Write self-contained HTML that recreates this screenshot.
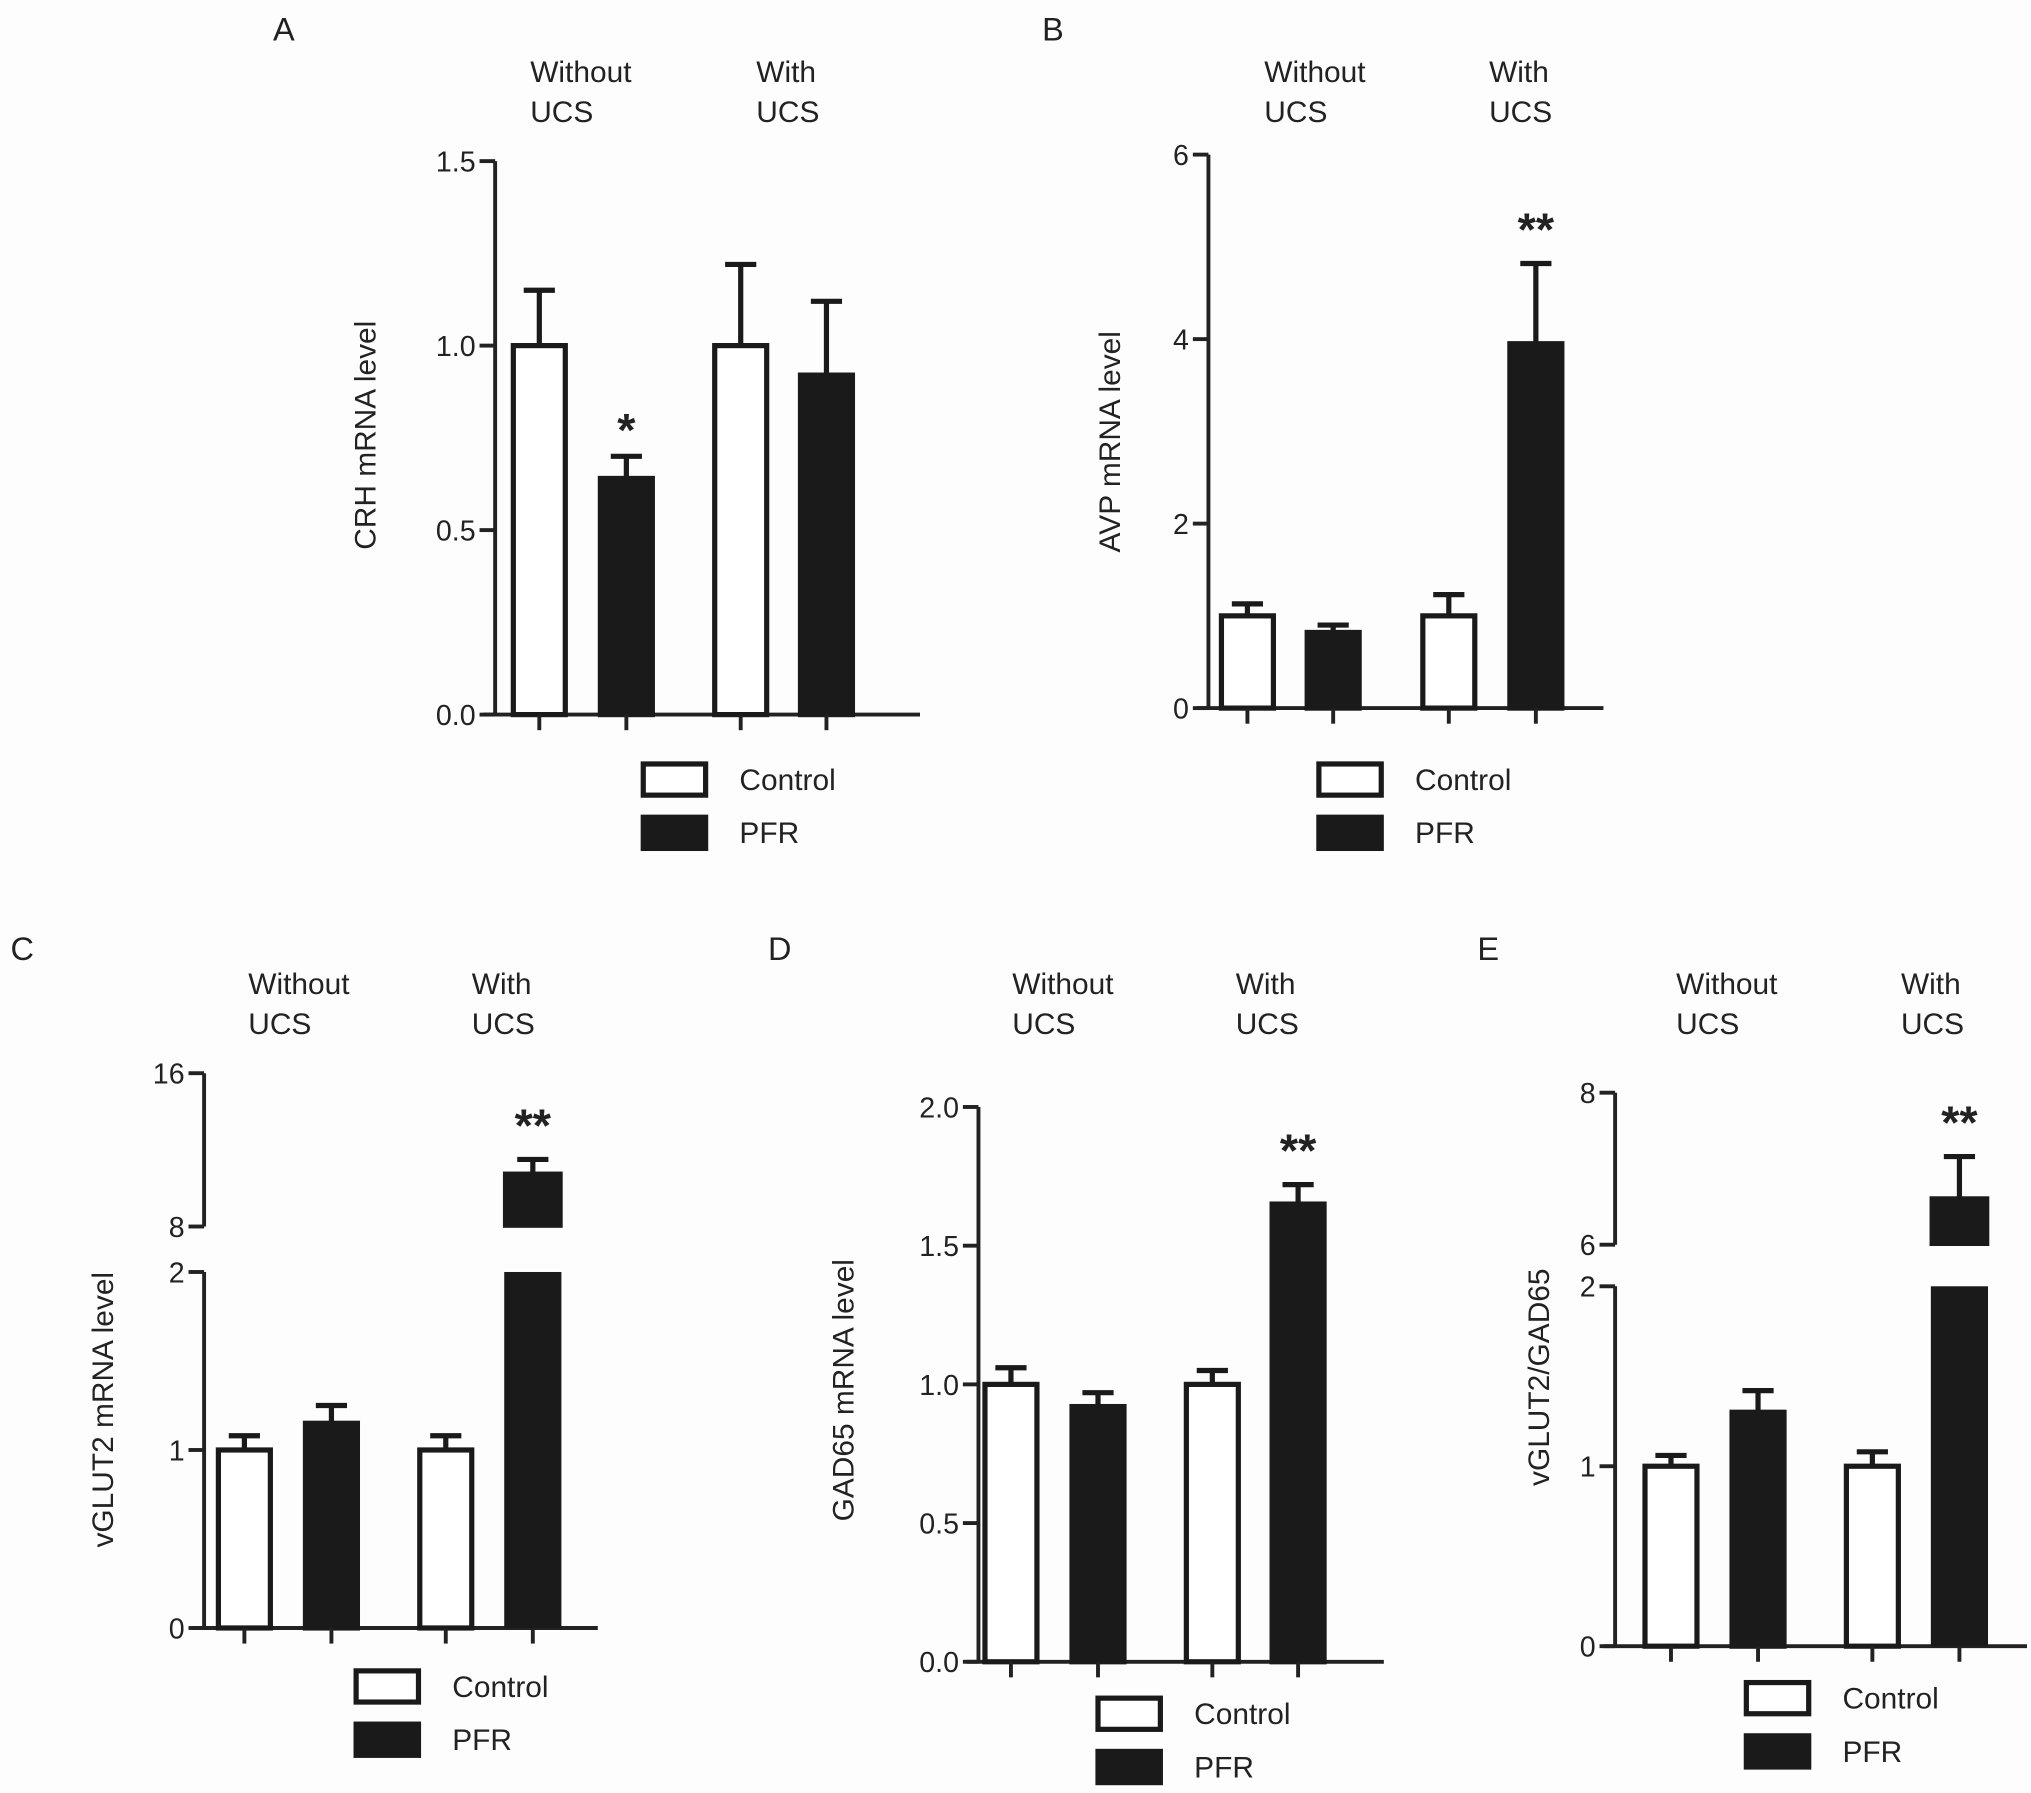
<!DOCTYPE html>
<html><head><meta charset="utf-8">
<style>
html,body{margin:0;padding:0;background:#fff;}
svg{display:block;font-family:"Liberation Sans",Arial,sans-serif;}
</style></head>
<body>
<svg id="fig" width="2031" height="1793" viewBox="0 0 1563 1380">
<rect x="0" y="0" width="1563" height="1380" fill="#fdfdfd"/>
</svg>
<script>
// ---- data ----
const groups = ["Without UCS", "With UCS"];
const seriesNames = ["Control", "PFR"];
const aValues = [1.0, 0.64, 1.0, 0.92];
const aErrors = [0.15, 0.06, 0.22, 0.20];
const aTicks = ["0.0", "0.5", "1.0", "1.5"];
const bValues = [1.0, 0.82, 1.0, 3.95];
const bErrors = [0.13, 0.08, 0.23, 0.87];
const bTicks = ["0", "2", "4", "6"];
const cValues = [1.0, 1.15, 1.0, 10.8];
const cErrors = [0.08, 0.10, 0.08, 0.7];
const cTicks = ["0", "1", "2", "8", "16"];
const dValues = [1.0, 0.92, 1.0, 1.65];
const dErrors = [0.06, 0.05, 0.05, 0.07];
const dTicks = ["0.0", "0.5", "1.0", "1.5", "2.0"];
const eValues = [1.0, 1.30, 1.0, 6.62];
const eErrors = [0.06, 0.12, 0.08, 0.54];
const eTicks = ["0", "1", "2", "6", "8"];
const stars = ["", "*", "", ""];
const starsB = ["", "", "", "**"];

const NS = "http://www.w3.org/2000/svg";
const svg = document.getElementById("fig");
function el(tag, attrs, parent, text) {
  const e = document.createElementNS(NS, tag);
  for (const k in attrs) e.setAttribute(k, attrs[k]);
  if (text !== undefined) e.textContent = text;
  (parent || svg).appendChild(e);
  return e;
}

function makeScale(segs) {
  return function (v) {
    for (const s of segs) {
      if (v >= s.lo - 1e-9 && v <= s.hi + 1e-9) return s.yLo + (v - s.lo) / (s.hi - s.lo) * (s.yHi - s.yLo);
    }
    const s = segs[segs.length - 1];
    return s.yLo + (v - s.lo) / (s.hi - s.lo) * (s.yHi - s.yLo);
  };
}

function panel(cfg) {
  const g = el("g", {});
  
  
  const t = el("text", {x: cfg.lx, y: cfg.ly, "font-size": 25, fill: "#222"}, g, cfg.id);
  
  
  groups.forEach((gname, i) => {
    const hx = cfg.hx[i];
    const parts = gname.split(" ");
    const h = el("text", {x: hx, y: cfg.hy, "font-size": 23, fill: "#222"}, g);
    
    
    el("tspan", {x: hx, dy: 0}, h, parts[0]);
    el("tspan", {x: hx, dy: 31}, h, parts[1]);
  });
  const scale = makeScale(cfg.segs);
  const ax = cfg.ax;
  cfg.segs.forEach(s => {
    const a = el("line", {x1: ax, x2: ax, y1: s.yLo, y2: s.yHi, stroke: "#222", "stroke-width": 3}, g);
    
    
  });
  cfg.ticks.forEach(lbl => {
    const v = parseFloat(lbl);
    const y = scale(v);
    const tk = el("line", {x1: ax - 12, x2: ax, y1: y, y2: y, stroke: "#222", "stroke-width": 3}, g);
    
    
    const tl = el("text", {x: ax - 15, y: y + 8, "font-size": 22, "text-anchor": "end", fill: "#222"}, g, lbl);
    
    
  });
  const y0 = scale(0);
  const xa = el("line", {x1: ax - 9, x2: cfg.xend, y1: y0, y2: y0, stroke: "#222", "stroke-width": 3}, g);
  
  
  const bw = 44;
  cfg.values.forEach((v, i) => {
    const cx = cfg.bx[i];
    const filled = i % 2 === 1;
    const top = scale(v);
    const ce = scale(v + cfg.errors[i]);
    const eb = el("line", {x1: cx, x2: cx, y1: ce, y2: top, stroke: "#1a1a1a", "stroke-width": 4}, g);
    
    
    const cap = el("line", {x1: cx - 12, x2: cx + 12, y1: ce, y2: ce, stroke: "#1a1a1a", "stroke-width": 4}, g);
    
    
    if (cfg.brk && v > cfg.brk.lowHi) {
      const yb = scale(cfg.brk.lowHi);
      const lower = el("rect", {x: cx - bw / 2, y: yb, width: bw, height: y0 - yb, fill: "#1a1a1a"}, g);
      
      
      const yu = scale(cfg.brk.upLo);
      const upper = el("rect", {x: cx - bw / 2, y: top, width: bw, height: yu - top, fill: "#1a1a1a", stroke: "#1a1a1a", "stroke-width": 2}, g);
      
      
    } else {
      const r = el("rect", {x: cx - bw / 2 + 2, y: top, width: bw - 4, height: y0 - top, fill: filled ? "#1a1a1a" : "#fff", stroke: "#1a1a1a", "stroke-width": 4}, g);
      
      
    }
    const xt = el("line", {x1: cx, x2: cx, y1: y0, y2: y0 + 12, stroke: "#222", "stroke-width": 3}, g);
    
    
    if (cfg.stars[i]) {
      const s = el("text", {x: cx, y: ce - (cfg.stars[i] === "*" ? 8 : cfg.starOff), "font-size": 36, "font-weight": "bold", "text-anchor": "middle", fill: "#222"}, g, cfg.stars[i]);
      
      
    }
  });
  const yt = el("text", {x: 0, y: 0, "font-size": 23, "text-anchor": "middle", fill: "#222", transform: "translate(" + cfg.tx + "," + cfg.ty + ") rotate(-90)"}, g, cfg.title);
  
  
  seriesNames.forEach((n, i) => {
    const ly = cfg.legY + i * 41;
    const box = el("rect", {x: cfg.legX, y: ly, width: 48, height: 24, fill: i ? "#1a1a1a" : "#fff", stroke: "#1a1a1a", "stroke-width": 4}, g);
    
    
    const lt = el("text", {x: cfg.legX + 74, y: ly + 20, "font-size": 23, fill: "#222"}, g, n);
    
    
  });
}

panel({id: "A", lx: 210, ly: 31, hx: [408, 582], hy: 63, ax: 381, xend: 708,
  segs: [{lo: 0, hi: 1.5, yLo: 550, yHi: 124}], ticks: aTicks, starOff: 14,
  values: aValues, errors: aErrors, stars: stars, bx: [415, 482, 570, 636],
  title: "CRH mRNA level", tx: 289, ty: 335, legX: 495, legY: 588});
panel({id: "B", lx: 802, ly: 31, hx: [973, 1146], hy: 63, ax: 930, xend: 1234,
  segs: [{lo: 0, hi: 6, yLo: 545, yHi: 119}], ticks: bTicks, starOff: 14,
  values: bValues, errors: bErrors, stars: starsB, bx: [960, 1026, 1115, 1182],
  title: "AVP mRNA level", tx: 862, ty: 340, legX: 1015, legY: 588});
panel({id: "C", lx: 8, ly: 739, hx: [191, 363], hy: 765, ax: 157, xend: 460,
  segs: [{lo: 0, hi: 2, yLo: 1253, yHi: 979}, {lo: 8, hi: 16, yLo: 944, yHi: 826}], brk: {lowHi: 2, upLo: 8}, ticks: cTicks, starOff: 14,
  values: cValues, errors: cErrors, stars: starsB, bx: [188, 255, 343, 410],
  title: "vGLUT2 mRNA level", tx: 87, ty: 1085, legX: 274, legY: 1286});
panel({id: "D", lx: 591, ly: 739, hx: [779, 951], hy: 765, ax: 753, xend: 1065,
  segs: [{lo: 0, hi: 2, yLo: 1279, yHi: 852}], ticks: dTicks, starOff: 14,
  values: dValues, errors: dErrors, stars: starsB, bx: [778, 845, 933, 999],
  title: "GAD65 mRNA level", tx: 657, ty: 1070, legX: 845, legY: 1307});
panel({id: "E", lx: 1137, ly: 739, hx: [1290, 1463], hy: 765, ax: 1243, xend: 1560,
  segs: [{lo: 0, hi: 2, yLo: 1267, yHi: 990}, {lo: 6, hi: 8, yLo: 958, yHi: 841}], brk: {lowHi: 2, upLo: 6}, ticks: eTicks, starOff: 14,
  values: eValues, errors: eErrors, stars: starsB, bx: [1286, 1353, 1441, 1508],
  title: "vGLUT2/GAD65", tx: 1192, ty: 1060, legX: 1344, legY: 1295});
</script>
</body></html>
